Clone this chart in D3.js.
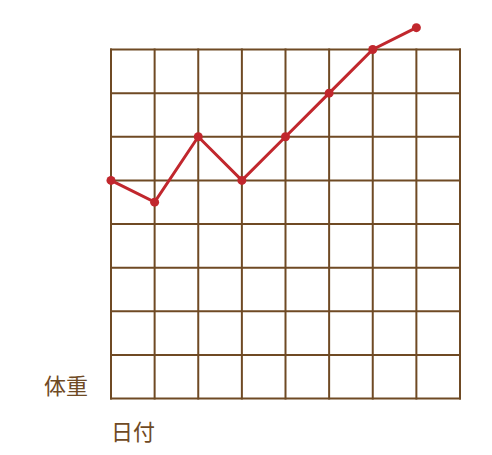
<!DOCTYPE html>
<html>
<head>
<meta charset="utf-8">
<script src="https://cdn.jsdelivr.net/npm/d3@7"></script>
<style>
  body { margin: 0; background: #fff; }
  text { font-family: "Noto Sans CJK JP", "Noto Sans", sans-serif; }
</style>
</head>
<body>
<div id="chart"></div>
<script>
// data
const days = [0, 1, 2, 3, 4, 5, 6, 7];
const weights = [5, 4.5, 6, 5, 6, 7, 8, 8.5];
const gridTicks = [0, 1, 2, 3, 4, 5, 6, 7, 8];
const xLabel = '日付';
const yLabel = '体重';

const width = 492, height = 455;
const margin = { top: 49.5, left: 111, right: 32, bottom: 56.5 };

const svg = d3.select('#chart').append('svg')
    .attr('width', width)
    .attr('height', height);

const x = d3.scaleLinear()
    .domain([0, 8])
    .range([margin.left, width - margin.right]);

const y = d3.scaleLinear()
    .domain([0, 8])
    .range([height - margin.bottom, margin.top]);

const gridColor = '#6f4a24';
const lineColor = '#c1272d';

// grid
const grid = svg.append('g');
grid.selectAll('line.v')
    .data(gridTicks)
    .enter().append('line')
    .attr('class', 'v')
    .attr('x1', d => x(d)).attr('x2', d => x(d))
    .attr('y1', y(0) + 1).attr('y2', y(8) - 1)
    .attr('stroke', gridColor)
    .attr('stroke-width', 2);
grid.selectAll('line.h')
    .data(gridTicks)
    .enter().append('line')
    .attr('class', 'h')
    .attr('y1', d => y(d)).attr('y2', d => y(d))
    .attr('x1', x(0) - 1).attr('x2', x(8) + 1)
    .attr('stroke', gridColor)
    .attr('stroke-width', 2);

// line
const line = d3.line()
    .x((d, i) => x(days[i]))
    .y(d => y(d));

svg.append('path')
    .datum(weights)
    .attr('d', line)
    .attr('fill', 'none')
    .attr('stroke', lineColor)
    .attr('stroke-width', 3);

svg.selectAll('circle')
    .data(weights)
    .enter().append('circle')
    .attr('cx', (d, i) => x(days[i]))
    .attr('cy', d => y(d))
    .attr('r', 4.5)
    .attr('fill', lineColor);

// labels
svg.append('text')
    .attr('x', 88)
    .attr('y', 394)
    .attr('text-anchor', 'end')
    .attr('font-size', 22)
    .attr('fill', gridColor)
    .text(yLabel);

svg.append('text')
    .attr('x', x(0))
    .attr('y', 440)
    .attr('font-size', 22)
    .attr('fill', gridColor)
    .text(xLabel);
</script>
</body>
</html>
